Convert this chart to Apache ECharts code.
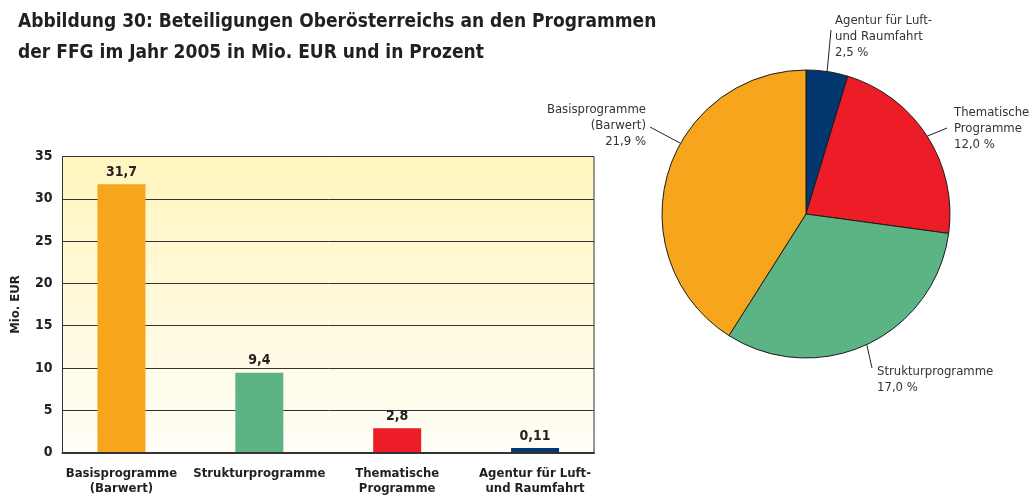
<!DOCTYPE html>
<html><head><meta charset="utf-8">
<script src="https://cdn.jsdelivr.net/npm/echarts@6/dist/echarts.min.js"></script>
<style>html,body{margin:0;padding:0;background:#fff}#c{width:1033px;height:496px}</style>
</head><body><div id="c"></div>
<script>
const categories = ['Basisprogramme\n(Barwert)', 'Strukturprogramme', 'Thematische\nProgramme', 'Agentur für Luft-\nund Raumfahrt'];
const barValues = [31.7, 9.4, 2.8, 0.11];
const barLabels = ['31,7', '9,4', '2,8', '0,11'];
const barColors = ['#F6A51C', '#5CB484', '#EC1D27', '#00386F'];
const yTicks = [0, 5, 10, 15, 20, 25, 30, 35];
// pie: clockwise from 12 o'clock
const pieNames = ['Agentur für Luft-\nund Raumfahrt', 'Thematische\nProgramme', 'Strukturprogramme', 'Basisprogramme\n(Barwert)'];
const pieValues = [2.5, 12.0, 17.0, 21.9];
const pieColors = ['#00386F', '#EC1D27', '#5CB484', '#F6A51C'];

const FONT = '"Liberation Sans Narrow", "DejaVu Sans Condensed", "Liberation Sans", sans-serif';
// label placement for pie (styles only)
const pieLabelPos = [
  {x: 835, y: 13, align: 'left', end: [831, 30]},
  {x: 954, y: 105, align: 'left', end: [947, 128]},
  {x: 877, y: 364, align: 'left', end: [872, 368]},
  {x: 646, y: 102, align: 'right', end: [650, 127], start: [680, 143]}
];

const chart = echarts.init(document.getElementById('c'));
chart.setOption({
  animation: false,
  textStyle: {fontFamily: FONT},
  title: {
    text: 'Abbildung 30: Beteiligungen Oberösterreichs an den Programmen\nder FFG im Jahr 2005 in Mio. EUR und in Prozent',
    left: 13, top: 2,
    textStyle: {fontFamily: FONT, fontWeight: 'bold', fontSize: 19, lineHeight: 31, color: '#231F20'}
  },
  grid: [
    {left: 62.5, top: 156.5, width: 531.5, height: 296, show: true,
     backgroundColor: new echarts.graphic.LinearGradient(0, 0, 0, 1, [
       {offset: 0, color: '#FFF5BE'}, {offset: 1, color: '#FFFEF7'}]),
     borderColor: '#333', borderWidth: 1},
    {left: 52.5, top: 156.5, width: 551.5, height: 296}
  ],
  xAxis: [
    {gridIndex: 0, type: 'category', data: categories, axisLabel: {show: false}, axisTick: {show: false},
     axisLine: {lineStyle: {color: '#333', width: 2}}, z: 5},
    {gridIndex: 1, type: 'category', data: categories, axisLine: {show: false}, axisTick: {show: false},
     axisLabel: {interval: 0, margin: 14, fontFamily: FONT, fontWeight: 'bold', fontSize: 13, lineHeight: 15, color: '#231F20'}}
  ],
  yAxis: [
    {gridIndex: 0, type: 'value', min: 0, max: 35, interval: 5,
     axisLine: {show: false}, axisTick: {show: false},
     axisLabel: {margin: 10, fontFamily: FONT, fontWeight: 'bold', fontSize: 14, color: '#231F20',
       formatter: v => yTicks.includes(v) ? String(v) : ''},
     splitLine: {lineStyle: {color: '#333', width: 1}},
     name: 'Mio. EUR', nameLocation: 'middle', nameRotate: 90, nameGap: 40,
     nameTextStyle: {fontFamily: FONT, fontWeight: 'bold', fontSize: 13, color: '#231F20'}},
    {gridIndex: 1, type: 'value', min: 0, max: 35, show: false, splitLine: {show: false}}
  ],
  series: [
    {type: 'bar', xAxisIndex: 1, yAxisIndex: 1, barWidth: 48, barMinHeight: 4,
     data: barValues.map((v, i) => ({value: v, itemStyle: {color: barColors[i]}})),
     label: {show: true, position: 'top', distance: 5, fontFamily: FONT, fontWeight: 'bold', fontSize: 14, color: '#231F20',
       formatter: p => barLabels[p.dataIndex]}},
    {type: 'pie', center: [806, 214], radius: 144, startAngle: 90, clockwise: true,
     data: pieValues.map((v, i) => ({name: pieNames[i], value: v, itemStyle: {color: pieColors[i]}})),
     itemStyle: {borderColor: '#1A1A1A', borderWidth: 1},
     label: {show: true, position: 'outside', overflow: 'none', fontFamily: FONT, fontSize: 13, lineHeight: 16, color: '#333',
       formatter: p => p.name + '\n' + p.value.toFixed(1).replace('.', ',') + ' %'},
     labelLine: {show: true, length: 20, length2: 0, lineStyle: {color: '#222', width: 1}},
     labelLayout: function (params) {
       const s = pieLabelPos[params.dataIndex];
       const st = s.start || (params.labelLinePoints ? params.labelLinePoints[0] : s.end);
       return {x: s.x, y: s.y, align: s.align, verticalAlign: 'top',
         labelLinePoints: [st, s.end, s.end]};
     }}
  ]
});
</script></body></html>
